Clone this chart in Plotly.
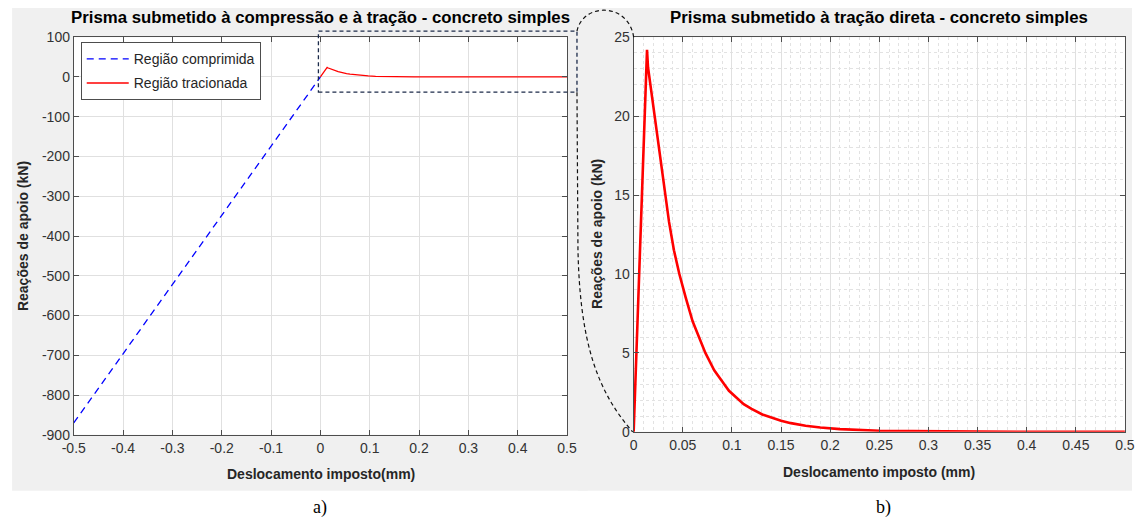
import plotly.graph_objects as go

W, H = 1142, 517

# ---- data -------------------------------------------------------------
# compressed region (left panel, blue dashed)
comp_x = [-0.5, 0.0]
comp_y = [-870.0, 0.0]

# tensioned region (softening curve)
tens_x = [0.0, 0.0136, 0.0146, 0.0360, 0.041, 0.0465, 0.053, 0.060,
          0.073, 0.082, 0.090, 0.097, 0.112, 0.120, 0.131, 0.140, 0.150,
          0.160, 0.175, 0.190, 0.210, 0.250, 0.300, 0.350, 0.400, 0.450, 0.500]
tens_y = [0.0, 24.2, 23.1, 13.3, 11.5, 10.0, 8.5, 7.0,
          5.0, 3.9, 3.2, 2.6, 1.75, 1.45, 1.1, 0.9, 0.7,
          0.55, 0.38, 0.27, 0.17, 0.07, 0.03, 0.012, 0.005, 0.002, 0.001]

left_xticks = [-0.5, -0.4, -0.3, -0.2, -0.1, 0.0, 0.1, 0.2, 0.3, 0.4, 0.5]
left_xtext = ["-0.5", "-0.4", "-0.3", "-0.2", "-0.1", "0", "0.1", "0.2", "0.3", "0.4", "0.5"]
left_yticks = [100, 0, -100, -200, -300, -400, -500, -600, -700, -800, -900]
left_ytext = ["100", "0", "-100", "-200", "-300", "-400", "-500", "-600", "-700", "-800", "-900"]

right_xticks = [0.0, 0.05, 0.1, 0.15, 0.2, 0.25, 0.3, 0.35, 0.4, 0.45, 0.5]
right_xtext = ["0", "0.05", "0.1", "0.15", "0.2", "0.25", "0.3", "0.35", "0.4", "0.45", "0.5"]
right_yticks = [0, 5, 10, 15, 20, 25]
right_ytext = ["0", "5", "10", "15", "20", "25"]

title_left = "Prisma submetido à compressão e à tração - concreto simples"
title_right = "Prisma submetido à tração direta - concreto simples"
xlabel_left = "Deslocamento imposto(mm)"
xlabel_right = "Deslocamento imposto (mm)"
ylabel = "Reações de apoio (kN)"


# ---- helpers: screen position -> paper fraction -------------------------
# The page keeps the browser's 8px body margin and the whole page is fitted
# into the window, so screen positions are mapped back through that margin.
MARGIN = 8
SX = (W + 2 * MARGIN) / W
SY = (H + 2 * MARGIN) / H


def px(x):
    return (x * SX - MARGIN) / W


def py(y):
    return 1 - (y * SY - MARGIN) / H


SANS = "Liberation Sans, Arial, sans-serif"
SERIF = "Liberation Serif, DejaVu Serif, serif"
AXIS_COLOR = "#4d4d4d"
TICK_FONT = dict(family=SANS, size=14, color="#333333")

# axes boxes on screen (pixels): left, right, top, bottom
LEFT_BOX = (70, 566, 37, 435)
RIGHT_BOX = (633, 1127, 37, 432)

fig = go.Figure()

fig.add_trace(go.Scatter(
    x=comp_x, y=comp_y, mode="lines", name="Região comprimida",
    legendgroup="c", xaxis="x", yaxis="y",
    line=dict(color="#0000ff", width=1.3, dash="7px,5px"),
))
fig.add_trace(go.Scatter(
    x=tens_x, y=tens_y, mode="lines", name="Região tracionada",
    legendgroup="t", xaxis="x", yaxis="y",
    line=dict(color="#ff0000", width=1.3),
))
fig.add_trace(go.Scatter(
    x=tens_x, y=tens_y, mode="lines", name="Região tracionada",
    showlegend=False, xaxis="x2", yaxis="y2",
    line=dict(color="#ff0000", width=2.6),
))

axis_common = dict(
    showline=True, linecolor=AXIS_COLOR, linewidth=1, mirror="ticks",
    ticks="inside", ticklen=5, tickcolor=AXIS_COLOR, tickwidth=1,
    showgrid=True, gridcolor="#e0e0e0", gridwidth=1, zeroline=False,
    tickfont=TICK_FONT, tickmode="array", fixedrange=True,
)
minor_grid = dict(tickmode="linear", tick0=0, showgrid=True,
                  gridcolor="#e2e2e2", griddash="dot", gridwidth=1, ticks="")

fig.update_layout(
    width=W, height=H,
    margin=dict(l=0, r=0, t=0, b=0),
    paper_bgcolor="white", plot_bgcolor="white",
    xaxis=dict(axis_common, domain=[px(LEFT_BOX[0]), px(LEFT_BOX[1])],
               range=[-0.5, 0.5], tickvals=left_xticks, ticktext=left_xtext,
               anchor="y"),
    yaxis=dict(axis_common, domain=[py(LEFT_BOX[3]), py(LEFT_BOX[2])],
               range=[-900, 100], tickvals=left_yticks, ticktext=left_ytext,
               anchor="x"),
    xaxis2=dict(axis_common, domain=[px(RIGHT_BOX[0]), px(RIGHT_BOX[1])],
                range=[0, 0.5], tickvals=right_xticks, ticktext=right_xtext,
                anchor="y2", minor=dict(minor_grid, dtick=0.01)),
    yaxis2=dict(axis_common, domain=[py(RIGHT_BOX[3]), py(RIGHT_BOX[2])],
                range=[0, 25], tickvals=right_yticks, ticktext=right_ytext,
                anchor="x2", minor=dict(minor_grid, dtick=1)),
    legend=dict(
        x=px(77), y=py(42), xanchor="left", yanchor="top",
        bgcolor="white", bordercolor=AXIS_COLOR, borderwidth=1,
        font=dict(family=SANS, size=14, color="#262626"),
        tracegroupgap=3, itemwidth=42,
    ),
    showlegend=True,
)

# grey figure panels behind each axes, with white plotting areas
fig.add_shape(type="rect", xref="paper", yref="paper",
              x0=max(px(8), 0), x1=px(587), y0=py(491), y1=min(py(5), 1),
              fillcolor="#f0f0f0", line=dict(width=0), layer="below")
fig.add_shape(type="rect", xref="paper", yref="paper",
              x0=px(577), x1=1, y0=py(491), y1=1,
              fillcolor="#f0f0f0", line=dict(width=0), layer="below")
for (l, r, t, b) in (LEFT_BOX, RIGHT_BOX):
    fig.add_shape(type="rect", xref="paper", yref="paper",
                  x0=px(l), x1=px(r), y0=py(b), y1=py(t),
                  fillcolor="white", line=dict(width=0), layer="below")

# zoom box around the tension region and its connector to the right panel
fig.add_shape(type="rect", xref="paper", yref="paper",
              x0=px(316), x1=px(576), y0=py(92), y1=py(31),
              line=dict(color="#1c2b4a", width=1.3, dash="4px,3px"),
              fillcolor="rgba(0,0,0,0)")


def path(cmds):
    out = []
    for c in cmds:
        if isinstance(c, str):
            out.append(c)
        else:
            out.append(f"{px(c[0]):.5f},{py(c[1]):.5f}")
    return " ".join(out)


fig.add_shape(type="path", xref="paper", yref="paper",
              path=path(["M", (576, 31), "C", (582, 2), (628, 2), (633, 37)]),
              line=dict(color="#111111", width=1.2, dash="4px,3px"))
fig.add_shape(type="path", xref="paper", yref="paper",
              path=path(["M", (576, 92), "L", (577, 250), "C", (579, 340),
                         (595, 390), (632, 432)]),
              line=dict(color="#111111", width=1.2, dash="4px,3px"))

# titles, axis labels and panel letters
texts = [
    (f"<b>{title_left}</b>", 318.5, 17, 16.8, SANS, "#000000", 0),
    (f"<b>{title_right}</b>", 880, 17, 16.8, SANS, "#000000", 0),
    (f"<b>{xlabel_left}</b>", 318.5, 474, 14, SANS, "#262626", 0),
    (f"<b>{xlabel_right}</b>", 880, 472, 14, SANS, "#262626", 0),
    (f"<b>{ylabel}</b>", 19, 236, 14, SANS, "#262626", -90),
    (f"<b>{ylabel}</b>", 596, 234, 14, SANS, "#262626", -90),
    ("a)", 318, 508, 18, SERIF, "#000000", 0),
    ("b)", 884, 508, 18, SERIF, "#000000", 0),
]
for txt, x, y, size, fam, col, ang in texts:
    fig.add_annotation(text=txt, x=px(x), y=py(y), xref="paper", yref="paper",
                       xanchor="center", yanchor="middle", showarrow=False,
                       textangle=ang, font=dict(family=fam, size=size, color=col))

fig.write_html("out.html")
